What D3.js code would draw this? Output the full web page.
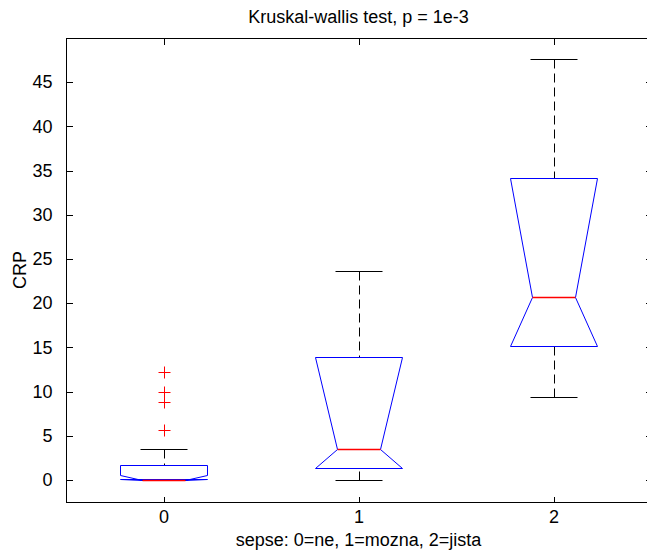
<!DOCTYPE html>
<html>
<style>
    body { margin: 0; background: #fff; }
    svg text { font-family: "Liberation Sans", Arial, sans-serif; fill: #000; }
</style>
<body>
<svg id="viz" width="647" height="553"></svg>

<script src="https://cdnjs.cloudflare.com/ajax/libs/d3/7.8.5/d3.min.js"></script>
<script>
    // groups on the x axis
    var categories = [0, 1, 2];
    // box statistics (CRP)
    var whiskerLo = [0, 0, 9.4];
    var q1 = [0.05, 1.4, 15.1];
    var medians = [0, 3.5, 20.7];
    var q3 = [1.65, 13.9, 34.2];
    var whiskerHi = [3.45, 23.6, 47.6];
    var notchLo = [-0.55, -7.0, 6.9];
    var notchHi = [0.55, 14.0, 34.5];
    // outliers, one list per group
    var outliers = [[12.2, 10.0, 8.85, 5.7], [], []];
    var yTicks = [0, 5, 10, 15, 20, 25, 30, 35, 40, 45];

    var svg = d3.select('#viz');
    var axLeft = 66, axRight = 651, axTop = 38, axBottom = 502;
    var fontSize = 18;

    var x = d3.scaleLinear().domain([-0.5, 2.5]).range([axLeft, axRight]);
    var y = d3.scaleLinear().domain([-2.5, 50]).range([axBottom, axTop]);

    var boxHalf = 0.225, capHalf = 0.118;

    // snap to pixel centres so 1px lines stay sharp
    function px(v) { return Math.round(v) + 0.5; }

    function styleAxis(g) {
        g.select('.domain').remove();
        g.selectAll('line').attr('stroke', '#000').attr('shape-rendering', 'crispEdges');
        g.selectAll('text').attr('font-family', '"Liberation Sans", Arial, sans-serif')
            .attr('font-size', fontSize).attr('fill', '#000');
    }

    // frame
    svg.append('rect')
        .attr('x', axLeft + 0.5).attr('y', axTop + 0.5)
        .attr('width', axRight - axLeft).attr('height', axBottom - axTop)
        .attr('fill', 'none').attr('stroke', '#000')
        .attr('shape-rendering', 'crispEdges');

    svg.append('g').attr('transform', 'translate(' + (axLeft + 0.5) + ',0)')
        .call(d3.axisLeft(y).tickValues(yTicks).tickSize(-6).tickPadding(14))
        .call(styleAxis);
    svg.append('g').attr('transform', 'translate(' + (axRight + 0.5) + ',0)')
        .call(d3.axisRight(y).tickValues(yTicks).tickSize(-6).tickFormat(''))
        .call(styleAxis);
    svg.append('g').attr('transform', 'translate(0,' + (axBottom + 0.5) + ')')
        .call(d3.axisBottom(x).tickValues(categories).tickSize(-6).tickPadding(8)
            .tickFormat(d3.format('d')))
        .call(styleAxis);
    svg.append('g').attr('transform', 'translate(0,' + (axTop + 0.5) + ')')
        .call(d3.axisTop(x).tickValues(categories).tickSize(-6).tickFormat(''))
        .call(styleAxis);

    var groups = svg.append('g').selectAll('g.box')
        .data(categories)
        .join('g').attr('class', 'box');

    // whiskers (dashed) and caps
    groups.each(function(c, i) {
        var g = d3.select(this);
        [[q3[i], whiskerHi[i]], [q1[i], whiskerLo[i]]].forEach(function(w) {
            g.append('line')
                .attr('x1', px(x(c))).attr('x2', px(x(c)))
                .attr('y1', px(y(w[1]))).attr('y2', px(y(w[0])))
                .attr('stroke', '#000').attr('stroke-dasharray', '9,5');
            g.append('line')
                .attr('x1', px(x(c - capHalf))).attr('x2', px(x(c + capHalf)))
                .attr('y1', px(y(w[1]))).attr('y2', px(y(w[1])))
                .attr('stroke', '#000');
        });
    });

    // notched boxes
    groups.append('path')
        .attr('fill', 'none').attr('stroke', '#0000ff')
        .attr('stroke-linejoin', 'bevel')
        .attr('d', function(c, i) {
            var nlo = Math.max(notchLo[i], q1[i]);
            var nhi = Math.min(notchHi[i], q3[i]);
            var pts = [
                [c - boxHalf, q1[i]], [c - boxHalf, nlo], [c - boxHalf / 2, medians[i]],
                [c - boxHalf, nhi], [c - boxHalf, q3[i]], [c + boxHalf, q3[i]],
                [c + boxHalf, nhi], [c + boxHalf / 2, medians[i]], [c + boxHalf, nlo],
                [c + boxHalf, q1[i]]
            ];
            return d3.line().x(function(p) { return px(x(p[0])); })
                .y(function(p) { return px(y(p[1])); })(pts) + 'Z';
        });

    // medians on their own layer, above every box
    svg.append('g').selectAll('line.median')
        .data(categories)
        .join('line').attr('class', 'median')
        .attr('x1', function(c) { return px(x(c - boxHalf / 2)); })
        .attr('x2', function(c) { return px(x(c + boxHalf / 2)); })
        .attr('y1', function(c, i) { return px(y(medians[i])); })
        .attr('y2', function(c, i) { return px(y(medians[i])); })
        .attr('stroke', '#ff0000').attr('stroke-width', 1.5);

    // outliers as red plus signs
    groups.each(function(c, i) {
        d3.select(this).selectAll('path.out')
            .data(outliers[i])
            .join('path').attr('class', 'out')
            .attr('d', function(v) {
                var cx = px(x(c)), cy = px(y(v));
                return 'M' + (cx - 6) + ',' + cy + 'H' + (cx + 6) +
                    'M' + cx + ',' + (cy - 6) + 'V' + (cy + 6);
            })
            .attr('stroke', '#ff0000').attr('fill', 'none');
    });

    // title and axis labels
    svg.append('text')
        .attr('x', (axLeft + axRight) / 2).attr('y', 23)
        .attr('text-anchor', 'middle').attr('font-size', fontSize)
        .text('Kruskal-wallis test, p = 1e-3');
    svg.append('text')
        .attr('x', (axLeft + axRight) / 2).attr('y', 546)
        .attr('text-anchor', 'middle').attr('font-size', fontSize)
        .text('sepse: 0=ne, 1=mozna, 2=jista');
    svg.append('text')
        .attr('transform', 'translate(26,' + (axTop + axBottom) / 2 + ') rotate(-90)')
        .attr('text-anchor', 'middle').attr('font-size', fontSize)
        .text('CRP');
</script>
</body>
</html>
